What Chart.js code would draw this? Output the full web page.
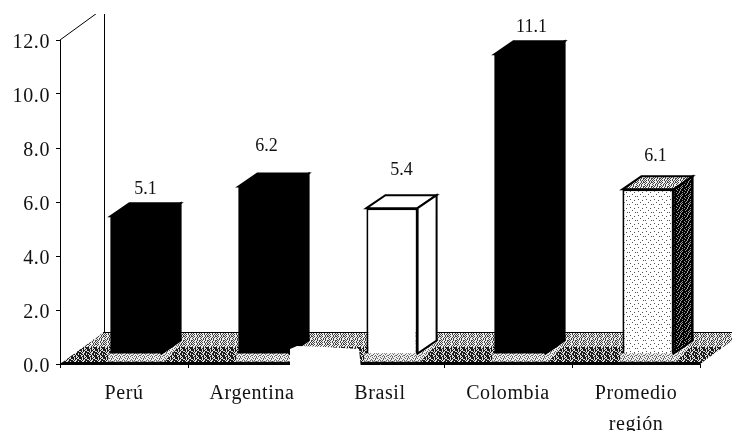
<!DOCTYPE html>
<html>
<head>
<meta charset="utf-8">
<style>
    html, body { margin: 0; padding: 0; background: #fff; }
    #contenedor { width: 732px; height: 431px; }
</style>
<script src="https://cdn.jsdelivr.net/npm/chart.js@4"></script>
</head>
<body>
<div id="contenedor"><canvas id="grafico" width="732" height="431"></canvas></div>
<script>
const categorias = ["Perú", "Argentina", "Brasil", "Colombia", ["Promedio", "región"]];
const valores = [5.1, 6.2, 5.4, 11.1, 6.1];
const marcasY = [0, 2, 4, 6, 8, 10, 12];

// corrimiento de cada etiqueta de valor respecto a la arista trasera de su barra
const etiquetaDx = [0, -7, 0, 2, -2];
const etiquetaAlto = [14, 27, 25, 14, 20];

const fuente = "'Liberation Serif', serif";
const profX = 44, profY = 32;      // fondo del piso y la pared
const barraX = 19, barraY = 13;    // fondo de cada barra
const corrX = 12, corrY = -10;     // las barras se apoyan a mitad del piso

// trama de puntos a partir de filas de texto
const crearTrama = (filas, tinta, papel) => {
    let c = document.createElement("canvas");
    c.width = filas[0].length;
    c.height = filas.length;
    let g = c.getContext("2d");
    g.fillStyle = papel;
    g.fillRect(0, 0, c.width, c.height);
    g.fillStyle = tinta;
    filas.forEach((fila, y) => {
        [...fila].forEach((p, x) => {
            if (p === "#") g.fillRect(x, y, 1, 1);
        });
    });
    return g.createPattern(c, "repeat");
};

const tramaOscura = crearTrama(["#.#..###", "##..##.#", ".##.##.#", "#..#.###", "#.##..##", "##.#.#.#", "##.##..#", ".#.#.##."], "#1a1a1a", "#ddd");
const tramaMedia = crearTrama(["#.#..#.#", ".#..#.#.", "#..#.#..", ".#.#.#..", "#.#..#.#", ".#..#..#", "#.#.#.#.", ".#...#.#"], "#444", "#eee");
const tramaClara = crearTrama([".#.#.#..", "...#...#", "#.#...#.", "..#.#.#.", ".#...#..", "#..#...#", "..#.#.#.", "#...#..."], "#666", "#eee");
const tramaFrente = crearTrama(["........", "..#.....", "......#.", "........", "....#...", "........", ".#.....#", "........"], "#555", "#fff");
const tramaCosta = crearTrama(["#.##.###", "###.##.#", ".##.####", "##.###.#", "#.###.##", "####.#.#", "##.##.##", ".###.###"], "#000", "#999");

const fondo3d = {
    id: "fondo3d",
    beforeDraw(chart) {
        const { ctx, chartArea: a } = chart;
        // separación de letras de los rótulos de los ejes
        ctx.letterSpacing = "0.6px";
        ctx.save();
        // pared lateral, recortada arriba
        ctx.beginPath();
        ctx.rect(0, 14, chart.width, chart.height);
        ctx.clip();
        ctx.strokeStyle = "#000";
        ctx.lineWidth = 1;
        ctx.beginPath();
        ctx.moveTo(a.left, a.top);
        ctx.lineTo(a.left + profX, a.top - profY);
        ctx.moveTo(a.left + profX + 0.5, a.top - profY);
        ctx.lineTo(a.left + profX + 0.5, a.bottom - profY);
        ctx.stroke();
        ctx.restore();

        // piso
        ctx.save();
        ctx.beginPath();
        ctx.moveTo(a.left, a.bottom);
        ctx.lineTo(a.left + profX, a.bottom - profY);
        ctx.lineTo(a.right + profX, a.bottom - profY);
        ctx.lineTo(a.right, a.bottom);
        ctx.closePath();
        ctx.clip();
        ctx.fillStyle = tramaOscura;
        ctx.fillRect(0, a.bottom - profY, chart.width, profY);
        ctx.fillStyle = tramaMedia;
        ctx.fillRect(0, a.bottom - profY, chart.width, 15);
        ctx.fillStyle = "#000";
        ctx.fillRect(0, a.bottom - profY, chart.width, 1);
        ctx.fillRect(0, a.bottom - 2, chart.width, 2);
        ctx.restore();
    },
    beforeDatasetsDraw(chart) {
        const { ctx } = chart;
        ctx.save();
        ctx.translate(corrX, corrY);
        // franja clara al pie de cada barra
        chart.getDatasetMeta(0).data.forEach(b => {
            let izq = b.x - b.width / 2, der = b.x + b.width / 2;
            ctx.fillStyle = tramaClara;
            ctx.beginPath();
            ctx.moveTo(izq - 2, b.base);
            ctx.lineTo(izq - 2, b.base + 8);
            ctx.lineTo(der + 3, b.base + 8);
            ctx.lineTo(der + barraX, b.base - barraY + 4);
            ctx.lineTo(der + barraX, b.base - barraY);
            ctx.closePath();
            ctx.fill();
        });
    },
    afterDatasetsDraw(chart) {
        const { ctx } = chart;
        chart.getDatasetMeta(0).data.forEach((b, i) => {
            let izq = b.x - b.width / 2, der = b.x + b.width / 2;
            let oscura = i === 0 || i === 1 || i === 3;
            let colorTapa = oscura ? "#000" : i === 2 ? "#fff" : tramaMedia;
            let colorLado = oscura ? "#000" : i === 2 ? "#fff" : tramaCosta;

            ctx.strokeStyle = "#000";
            ctx.lineWidth = 2;
            ctx.lineJoin = "miter";

            // cara superior
            ctx.fillStyle = colorTapa;
            ctx.beginPath();
            ctx.moveTo(izq, b.y);
            ctx.lineTo(izq + barraX, b.y - barraY);
            ctx.lineTo(der + barraX, b.y - barraY);
            ctx.lineTo(der, b.y);
            ctx.closePath();
            ctx.fill();
            ctx.stroke();

            // cara lateral
            ctx.fillStyle = colorLado;
            ctx.beginPath();
            ctx.moveTo(der, b.y);
            ctx.lineTo(der + barraX, b.y - barraY);
            ctx.lineTo(der + barraX, b.base - barraY);
            ctx.lineTo(der, b.base);
            ctx.closePath();
            ctx.fill();
            ctx.stroke();
        });
        ctx.restore();

        // etiquetas de valor
        ctx.save();
        ctx.font = "18px " + fuente;
        ctx.letterSpacing = "0px";
        ctx.fillStyle = "#111";
        ctx.textAlign = "center";
        ctx.textBaseline = "middle";
        chart.getDatasetMeta(0).data.forEach((b, i) => {
            let x = b.x + corrX + barraX / 2 + etiquetaDx[i];
            let y = b.y + corrY - barraY - etiquetaAlto[i];
            ctx.fillText(valores[i].toFixed(1), x, y);
        });
        ctx.restore();
    },
    afterDraw(chart) {
        // zona blanca del piso junto a Brasil
        const { ctx, chartArea: a } = chart;
        let xs = chart.scales.x;
        let medio = xs.getPixelForValue(1) + xs.width / 5 / 2 - 26;
        ctx.save();
        ctx.fillStyle = "#fff";
        ctx.beginPath();
        ctx.moveTo(medio, a.bottom + 5);
        ctx.lineTo(medio, a.bottom - 15);
        ctx.lineTo(medio + 7, a.bottom - 18);
        ctx.lineTo(medio + 36, a.bottom - 17);
        ctx.lineTo(medio + 69, a.bottom - 15);
        ctx.lineTo(medio + 71, a.bottom + 5);
        ctx.closePath();
        ctx.fill();
        ctx.restore();
    }
};

new Chart(document.getElementById("grafico"), {
    type: "bar",
    data: {
        labels: categorias,
        datasets: [
            {
                data: valores,
                backgroundColor: ["#000", "#000", "#fff", "#000", tramaFrente],
                borderColor: "#000",
                borderWidth: [0, 0, 2, 0, 2],
                barPercentage: 0.4,
                categoryPercentage: 1,
                clip: false
            }
        ]
    },
    options: {
        responsive: false,
        animation: false,
        layout: { padding: { top: 40, right: 32, left: 0, bottom: 0 } },
        plugins: {
            legend: { display: false },
            title: { display: false },
            tooltip: { enabled: false }
        },
        scales: {
            x: {
                afterFit(scale) { scale.height = 67; },
                border: { color: "#000", width: 1 },
                grid: { drawOnChartArea: false, color: "#000", tickLength: 4 },
                ticks: {
                    color: "#111",
                    maxRotation: 0,
                    autoSkip: false,
                    padding: 10,
                    font: { family: fuente, size: 20, lineHeight: 1.55 }
                }
            },
            y: {
                min: 0,
                max: 12,
                afterFit(scale) { scale.width = 60; },
                afterBuildTicks(scale) { scale.ticks = marcasY.map(v => ({ value: v })); },
                border: { color: "#000", width: 1 },
                grid: { drawOnChartArea: false, color: "#000", tickLength: 4 },
                ticks: {
                    color: "#111",
                    padding: 6,
                    labelOffset: 3,
                    callback: v => v.toFixed(1),
                    font: { family: fuente, size: 20 }
                }
            }
        }
    },
    plugins: [fondo3d]
});
</script>
</body>
</html>
